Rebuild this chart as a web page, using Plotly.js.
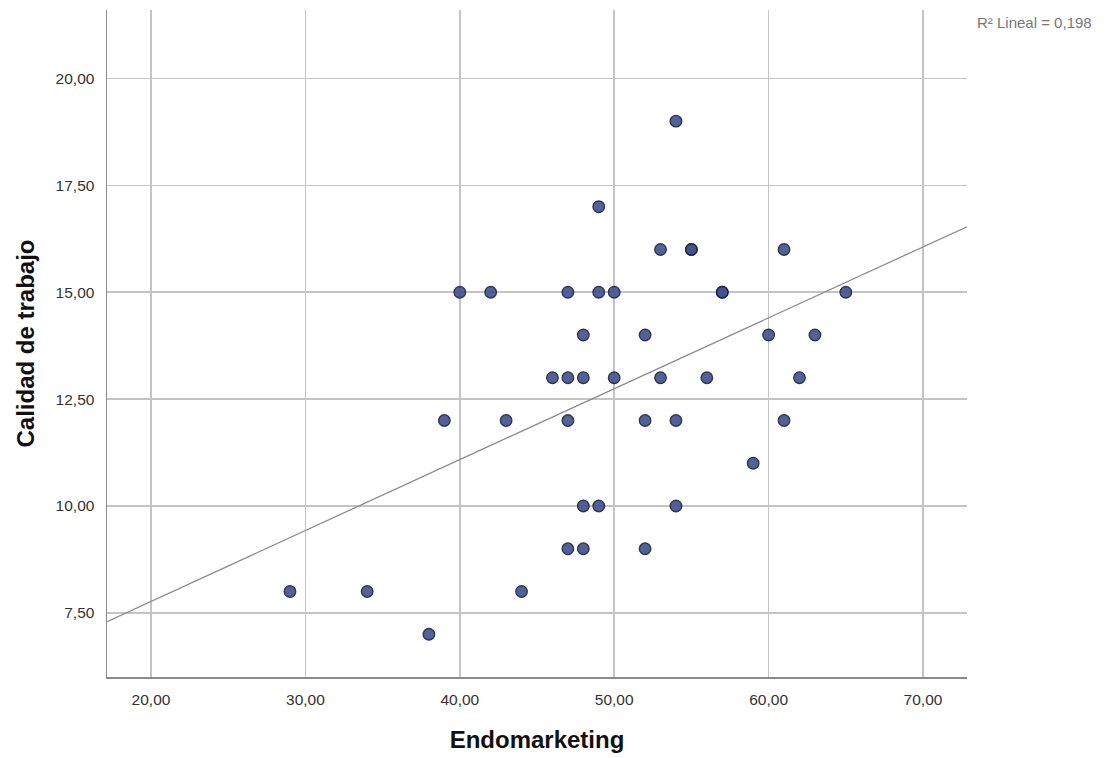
<!DOCTYPE html>
<html><head><meta charset="utf-8">
<script src="https://cdn.plot.ly/plotly-3.0.1.min.js"></script>
<style>html,body{margin:0;padding:0;background:#fff}#chart{width:1107px;height:758px}</style>
</head><body><div id="chart"></div>
<script>
const endomarketing = [29,34,38,39,40,42,43,44,46,47,47,47,47,48,48,48,48,49,49,49,50,50,52,52,52,53,53,54,54,54,55,55,56,57,57,59,60,61,61,62,63,65];
const calidad       = [8, 8, 7, 12,15,15,12,8, 13,15,13,12,9, 14,13,10,9, 17,15,10,15,13,14,12,9, 16,13,19,12,10,16,16,13,15,15,11,14,16,12,13,14,15];
const xRange = [17.15, 72.85];
const yRange = [6.0, 21.6];
const r2Label = 'R² Lineal = 0,198';

// least-squares fit computed from the data
const n = endomarketing.length;
const mx = endomarketing.reduce((a,b)=>a+b,0)/n;
const my = calidad.reduce((a,b)=>a+b,0)/n;
let sxy=0, sxx=0;
for (let i=0;i<n;i++){ sxy += (endomarketing[i]-mx)*(calidad[i]-my); sxx += (endomarketing[i]-mx)**2; }
const slope = sxy/sxx, intercept = my - slope*mx;
const fitX = xRange.slice();
const fitY = fitX.map(x => intercept + slope*x);

const data = [
  {x: fitX, y: fitY, mode:'lines', type:'scatter', line:{color:'#8c8c8c', width:1.3}, hoverinfo:'skip'},
  {x: endomarketing, y: calidad, mode:'markers', type:'scatter',
   marker:{size:11.5, color:'#3f5190', opacity:0.9, line:{color:'#1c2238', width:1.4}}}
];
const layout = {
  width:1107, height:758, showlegend:false,
  paper_bgcolor:'#fff', plot_bgcolor:'#fff',
  margin:{l:107, r:140, t:10, b:81},
  separators:',.',
  font:{family:'Liberation Sans, Arial, sans-serif', color:'#333'},
  xaxis:{range:xRange, tick0:20, dtick:10, tickformat:'.2f', showgrid:true, gridcolor:'#c4c4c4', gridwidth:1.5,
         zeroline:false, showline:true, linecolor:'#8a8a8a', linewidth:1.5, ticks:'', ticklen:0,
         ticklabelstandoff:8, automargin:false,
         tickfont:{size:15.5, color:'#333'},
         title:{text:'<b>Endomarketing</b>', font:{size:24, color:'#111'}, standoff:24}},
  yaxis:{range:yRange, tick0:7.5, dtick:2.5, tickformat:'.2f', showgrid:true, gridcolor:'#c4c4c4', gridwidth:1.5,
         zeroline:false, showline:true, linecolor:'#8a8a8a', linewidth:1.5, ticks:'', ticklen:0,
         ticklabelstandoff:8, automargin:false,
         tickfont:{size:15.5, color:'#333'},
         title:{text:'<b>Calidad de trabajo</b>', font:{size:24, color:'#111'}, standoff:14}},
  annotations:[{xref:'paper', yref:'paper', x:1.009, y:0.982, xanchor:'left', yanchor:'middle',
    text:r2Label, showarrow:false, font:{size:15, color:'#777'}}]
};
Plotly.newPlot('chart', data, layout, {displayModeBar:false, staticPlot:true});
</script></body></html>
